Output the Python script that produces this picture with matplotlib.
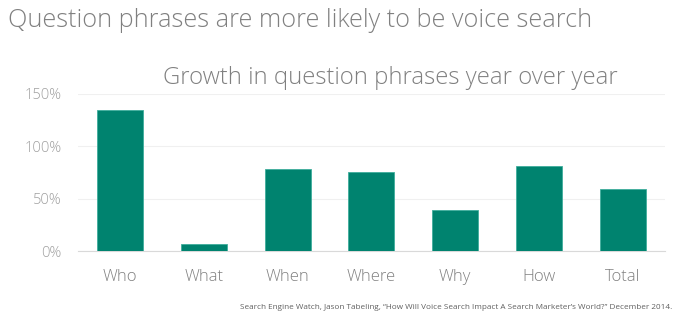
import matplotlib.pyplot as plt

# Growth in question phrases, year over year (%)
categories = ["Who", "What", "When", "Where", "Why", "How", "Total"]
growth = [135, 7, 78, 75, 39, 81, 59]
yticks = [0, 50, 100, 150]
ytick_labels = ["0%", "50%", "100%", "150%"]

bar_color = "#00836f"

plt.rcParams["font.family"] = ["Open Sans", "DejaVu Sans"]

fig = plt.figure(figsize=(6.79, 3.24), dpi=100)
ax = fig.add_axes([0.115, 0.2253, 0.864, 0.4847])

ax.bar(categories, growth, width=0.55, color=bar_color, edgecolor="#3fae9c", linewidth=0.6, zorder=3)

ax.set_ylim(0, 150)
ax.set_xlim(-0.5, len(categories) - 0.5)
ax.set_yticks(yticks)
ax.set_yticklabels(ytick_labels, fontsize=10.5, color="#a0a0a0", fontweight="light")
ax.tick_params(axis="x", labelsize=12, colors="#808080", length=0, pad=13)
ax.tick_params(axis="y", length=0, pad=12)
for lbl in ax.get_xticklabels():
    lbl.set_fontweight("light")

ax.grid(axis="y", color="#f0f0f0", linewidth=0.8, zorder=0)
for side in ["top", "right", "left"]:
    ax.spines[side].set_visible(False)
ax.spines["bottom"].set_color("#d9d9d9")

fig.text(0.012, 0.938, "Question phrases are more likely to be voice search",
         fontsize=18.2, color="#808080", fontweight="light", va="center", ha="left")
fig.text(0.24, 0.76, "Growth in question phrases year over year",
         fontsize=17.2, color="#808080", fontweight="light", va="center", ha="left")
fig.text(0.99, 0.05,
         "Search Engine Watch, Jason Tabeling, \u201cHow Will Voice Search Impact A Search Marketer\u2019s World?\u201d December 2014.",
         fontsize=5.9, color="#606060", ha="right", va="center")

fig.savefig("out.png", dpi=100, facecolor="white")
